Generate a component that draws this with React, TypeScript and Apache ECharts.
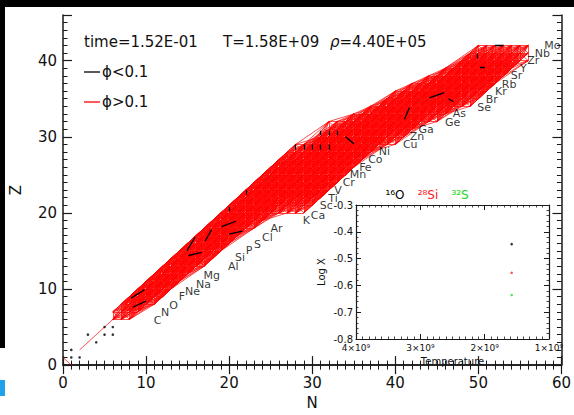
import React, { useEffect, useRef } from 'react';
import * as echarts from 'echarts';

// ---- network band: for each proton number Z, the neutron range in the network ----
const Z_ROWS = [6,7,8,9,10,11,12,13,14,15,16,17,18,19,20,21,22,23,24,25,26,27,28,29,30,31,32,33,34,35,36,37,38,39,40,41,42];
const N_MIN  = [6,6,7,8,9,10,11,12,13,14,15,16,17,18,19,20,21,22,23,24,25,26,27,28,31,32,32,35,37,39,40,42,44,46,48,49,50];
const N_MAX  = [8,9,11,12,13,14,15,17,18,19,20,21,23,24,29,30,31,32,33,34,35,36,37,40,41,42,45,46,49,50,51,52,53,54,56,56,56];
// reaction links (dN, dZ) drawn between nuclides of the network
const LINK_STEPS = [[1,0],[0,1],[1,1],[2,2],[1,-1],[2,1],[1,2],[3,2],[2,3],[3,1],[1,3],[3,3],[4,3],[3,4]];
// single red links at the light end: p-n and 4He -> 12C
const RED_EXTRA = [[[0,1],[1,0]], [[2,2],[6,6]]];
// flows with phi < 0.1
const BLACK_SEGS = [
  [[8.2,8.8],[9.8,9.9]], [[8.4,7.6],[10,8.4]],
  [[15.1,14.4],[16.7,14.8]], [[14.9,15],[15.9,16.8]], [[17.1,16.3],[17.9,17.8]],
  [[19.1,18.2],[20.8,18.9]], [[20,17.2],[21.6,17.6]],
  [[22,22.4],[22,23]], [[20,20.2],[20,20.8]],
  [[28,28.3],[28,29]], [[29,28.3],[29,29]], [[30,28.3],[30,29]], [[31,28.3],[31,29]], [[32,28.3],[32,29]],
  [[31,30.2],[31,30.8]], [[32,30.2],[32,30.8]], [[33,30.2],[33,30.8]],
  [[34,30],[35,29.1]], [[41.1,32.3],[41.7,33.8]],
  [[44.1,35.1],[45.9,35.8]], [[46.4,35],[47,34.6]],
  [[50.2,39.2],[50.8,39.2]], [[49.9,40.3],[49.9,40.9]], [[52,42],[53,42]],
];
// light nuclides shown as dots
const LIGHT_N = [1,2,1,3,4,5,6,5,6];
const LIGHT_Z = [1,1,2,4,3,4,4,5,5];
// element labels
const ELEMENTS = ['C','N','O','F','Ne','Na','Mg','Al','Si','P','S','Cl','Ar','K','Ca','Sc','Ti','V','Cr','Mn','Fe','Co','Ni','Cu','Zn','Ga','Ge','As','Se','Br','Kr','Rb','Sr','Y','Zr','Nb','Mo'];
const LABEL_N = [11.4,12.3,13.3,14.3,15.6,16.9,17.9,20.5,21.3,22.4,23.4,24.6,25.7,29.3,30.7,31.7,32.5,33.1,34.4,35.5,36.4,37.6,38.7,41.8,42.6,43.7,46.9,47.7,50.7,51.6,52.7,53.7,54.6,55.4,56.6,57.7,58.9];
const LABEL_Z = [5.9,6.9,7.8,9.0,9.7,10.6,11.8,13.0,14.2,15.0,15.9,16.8,18.0,19.0,19.7,21.0,21.9,22.9,24.0,25.0,26.0,27.0,28.1,29.0,30.0,31.0,31.9,33.0,33.8,34.9,36.0,36.9,38.0,39.0,40.0,40.9,42.0];
// inset: abundances
const ISOTOPES = ['¹⁶O', '²⁸Si', '³²S'];
const ISO_COLORS = ['#000000', '#ff2020', '#20d820'];
const INSET_T = [1.58e9, 1.58e9, 1.58e9];
const INSET_LOGX = [-0.446, -0.553, -0.636];

const FONT = 'DejaVu Sans';
const INK = '#1a1a1a';

function buildRedLinks() {
  const has = new Set<string>();
  Z_ROWS.forEach((z, i) => {
    for (let n = N_MIN[i]; n <= N_MAX[i]; n++) has.add(n + ',' + z);
  });
  const out: number[][][] = [];
  Z_ROWS.forEach((z, i) => {
    for (let n = N_MIN[i]; n <= N_MAX[i]; n++) {
      LINK_STEPS.forEach(([dn, dz]) => {
        if (has.has((n + dn) + ',' + (z + dz))) out.push([[n, z], [n + dn, z + dz]]);
      });
    }
  });
  return out.concat(RED_EXTRA);
}

export default function App() {
  const ref = useRef<HTMLDivElement>(null);
  useEffect(() => {
    if (!ref.current) return;
    const chart = echarts.init(ref.current, undefined, { renderer: 'svg' });
    const axLine = { show: true, lineStyle: { color: INK, width: 1.5 } };
    const mainX = (pos: string, labels: boolean) => ({
      gridIndex: 0, type: 'value', min: 0, max: 60, interval: 10, position: pos,
      axisLine: axLine,
      axisTick: { show: true, inside: true, length: 9, lineStyle: { color: INK, width: 1.2 } },
      minorTick: { show: true, splitNumber: 10, length: 4.5, lineStyle: { color: INK, width: 1 } },
      splitLine: { show: false }, minorSplitLine: { show: false },
      axisLabel: { show: labels, fontSize: 15, color: '#111', margin: 10, fontFamily: FONT },
      name: labels ? 'N' : '', nameLocation: 'middle', nameGap: 29,
      nameTextStyle: { fontSize: 15, color: '#111', fontFamily: FONT },
    });
    const mainY = (pos: string, major: boolean, labels: boolean) => ({
      gridIndex: 0, type: 'value', min: 0, max: 46, interval: major ? 10 : 1, position: pos,
      axisLine: major ? axLine : { show: false },
      axisTick: { show: true, inside: true, length: major ? 9 : 4.5, lineStyle: { color: INK, width: major ? 1.2 : 1 } },
      splitLine: { show: false },
      axisLabel: {
        show: labels, fontSize: 15, color: '#111', margin: 6, fontFamily: FONT,
        formatter: (v: number) => (v % 10 === 0 ? String(v) : ''),
      },
      name: labels ? 'Z' : '', nameLocation: 'middle', nameGap: 40, nameRotate: 90,
      nameTextStyle: { fontSize: 15, color: '#111', fontFamily: FONT },
    });
    const insetX = (pos: string, labels: boolean) => ({
      gridIndex: 1, type: 'value', min: 1e9, max: 4e9, interval: 1e9, inverse: true, position: pos,
      axisLine: { show: true, lineStyle: { color: INK, width: 1.2 } },
      axisTick: { show: true, inside: true, length: 5, lineStyle: { color: INK, width: 1 } },
      minorTick: { show: true, splitNumber: 10, length: 2.5, lineStyle: { color: INK, width: 0.8 } },
      splitLine: { show: false }, minorSplitLine: { show: false },
      axisLabel: {
        show: labels, fontSize: 9, color: '#111', margin: 4, fontFamily: FONT,
        formatter: (v: number) => Math.round(v / 1e9) + '×10⁹',
      },
      name: labels ? 'Temperature' : '', nameLocation: 'middle', nameGap: 17,
      nameTextStyle: { fontSize: 10, color: '#111', fontFamily: FONT, verticalAlign: 'top' },
    });
    const insetY = (pos: string, labels: boolean) => ({
      gridIndex: 1, type: 'value', min: -0.8, max: -0.3, interval: 0.1, position: pos,
      axisLine: { show: true, lineStyle: { color: INK, width: 1.2 } },
      axisTick: { show: true, inside: true, length: 5, lineStyle: { color: INK, width: 1 } },
      minorTick: { show: true, splitNumber: 5, length: 2.5, lineStyle: { color: INK, width: 0.8 } },
      splitLine: { show: false }, minorSplitLine: { show: false },
      axisLabel: {
        show: labels, fontSize: 10, color: '#111', margin: 3, fontFamily: FONT,
        formatter: (v: number) => v.toFixed(1),
      },
      name: labels ? 'Log X' : '', nameLocation: 'middle', nameGap: 30, nameRotate: 90,
      nameTextStyle: { fontSize: 10, color: '#111', fontFamily: FONT },
    });

    const redLinks = buildRedLinks();
    const option: any = {
      animation: false,
      backgroundColor: '#ffffff',
      grid: [
        { left: 59, top: 15, width: 507, height: 359 },
        { left: 356, top: 205, width: 193, height: 134 },
      ],
      xAxis: [mainX('bottom', true), mainX('top', false), insetX('bottom', true), insetX('top', false)],
      yAxis: [
        mainY('left', true, true), mainY('left', false, false),
        mainY('right', true, false), mainY('right', false, false),
        insetY('left', true), insetY('right', false),
      ],
      series: [
        {
          type: 'lines', coordinateSystem: 'cartesian2d', xAxisIndex: 0, yAxisIndex: 0,
          silent: true, z: 2,
          lineStyle: { color: '#ff0000', width: 0.7, opacity: 1 },
          data: redLinks.map((c) => ({ coords: c })),
        },
        {
          type: 'lines', coordinateSystem: 'cartesian2d', xAxisIndex: 0, yAxisIndex: 0,
          silent: true, z: 3,
          lineStyle: { color: '#000000', width: 1.3, opacity: 1 },
          data: BLACK_SEGS.map((c) => ({ coords: c })),
        },
        {
          type: 'scatter', xAxisIndex: 0, yAxisIndex: 0, symbolSize: 2.6, silent: true, z: 4,
          itemStyle: { color: '#000' },
          data: LIGHT_N.map((n, i) => [n, LIGHT_Z[i]]),
        },
        {
          type: 'scatter', xAxisIndex: 0, yAxisIndex: 0, symbolSize: 1, silent: true, z: 5,
          itemStyle: { color: 'transparent' },
          label: {
            show: true, position: 'inside', formatter: '{b}', fontSize: 11,
            color: '#000', fontFamily: FONT,
          },
          data: ELEMENTS.map((s, i) => ({ name: s, value: [LABEL_N[i], LABEL_Z[i]] })),
        },
        {
          type: 'scatter', xAxisIndex: 2, yAxisIndex: 4, symbolSize: 2.5, silent: true, z: 5,
          data: INSET_T.map((t, i) => ({ value: [t, INSET_LOGX[i]], itemStyle: { color: ISO_COLORS[i] } })),
        },
      ],
      graphic: [
        { type: 'text', x: 84, y: 42, style: { text: 'time=1.52E-01', fontSize: 15, fontFamily: FONT, fill: '#111', verticalAlign: 'middle' } },
        { type: 'text', x: 223, y: 42, style: { text: 'T=1.58E+09', fontSize: 15, fontFamily: FONT, fill: '#111', verticalAlign: 'middle' } },
        {
          type: 'text', x: 330, y: 42,
          style: {
            text: '{i|ρ}=4.40E+05', fontSize: 15, fontFamily: FONT, fill: '#111', verticalAlign: 'middle',
            rich: { i: { fontStyle: 'italic', fontSize: 15, fontFamily: FONT, fill: '#111' } },
          },
        },
        { type: 'line', shape: { x1: 84, y1: 72, x2: 100, y2: 72 }, style: { stroke: '#000', lineWidth: 1.3 } },
        { type: 'text', x: 102, y: 72, style: { text: 'ϕ<0.1', fontSize: 15, fontFamily: FONT, fill: '#111', verticalAlign: 'middle' } },
        { type: 'line', shape: { x1: 84, y1: 102, x2: 100, y2: 102 }, style: { stroke: '#ff0000', lineWidth: 1.3 } },
        { type: 'text', x: 102, y: 102, style: { text: 'ϕ>0.1', fontSize: 15, fontFamily: FONT, fill: '#111', verticalAlign: 'middle' } },
        ...ISOTOPES.map((s, i) => ({
          type: 'text', x: [395, 428, 460][i], y: 195,
          style: { text: s, fontSize: 12, fontFamily: FONT, fill: ISO_COLORS[i], align: 'center', verticalAlign: 'middle' },
        })),
        { type: 'rect', z: 100, shape: { x: 0, y: 0, width: 574, height: 7 }, style: { fill: '#000' } },
        { type: 'rect', z: 100, shape: { x: 0, y: 0, width: 5, height: 348 }, style: { fill: '#000' } },
        { type: 'rect', z: 100, shape: { x: 0, y: 380, width: 5, height: 16 }, style: { fill: '#1fa2ea' } },
      ],
    };
    chart.setOption(option);
    return () => chart.dispose();
  }, []);
  return (
    <div
      ref={ref}
      style={{ position: 'fixed', left: 0, top: 0, width: 574, height: 415, background: '#fff' }}
    />
  );
}
